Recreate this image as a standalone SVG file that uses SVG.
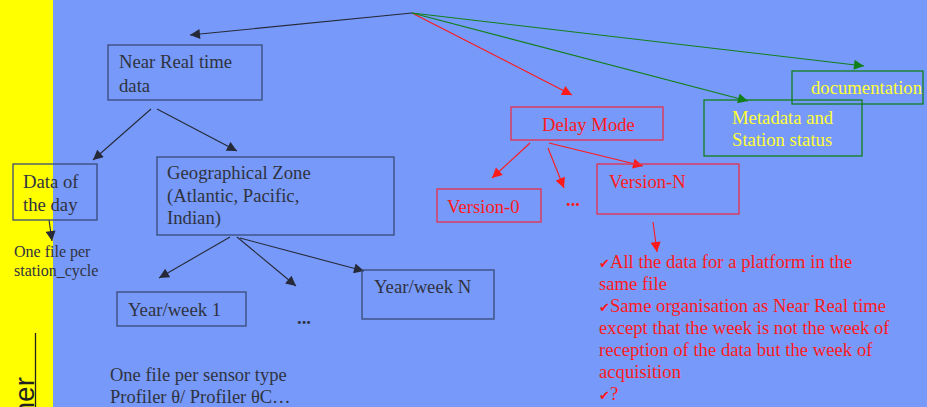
<svg xmlns="http://www.w3.org/2000/svg" width="927" height="407" viewBox="0 0 927 407">
<defs>
<style>
.bg{fill:#7799FA}
.bx{fill:none;stroke:#3A4A78;stroke-width:1.3}
.rb{fill:none;stroke:#E8304A;stroke-width:1.3}
.gb{fill:none;stroke:#11801A;stroke-width:1.3}
.t{font-family:"Liberation Serif","Times New Roman",serif;font-size:18.7px;fill:#2F3340}
.ts{font-family:"Liberation Serif","Times New Roman",serif;font-size:16px;fill:#2F3340}
.tm{font-family:"Liberation Serif","Times New Roman",serif;font-size:18.5px;fill:#2F3340}
.tr{font-family:"Liberation Serif","Times New Roman",serif;font-size:18.7px;fill:#FF1A1A}
.ty{font-family:"Liberation Serif","Times New Roman",serif;font-size:18.7px;fill:#FFFF33}
.ck{font-family:"DejaVu Sans",sans-serif;font-size:13px}
.kl{stroke:#262A38;stroke-width:1.1;fill:none}
.rl{stroke:#FF1A1A;stroke-width:1.1;fill:none}
.gl{stroke:#11801A;stroke-width:1.1;fill:none}
</style>
<marker id="ak" viewBox="0 0 10 10" refX="10" refY="5" markerWidth="11" markerHeight="10" markerUnits="userSpaceOnUse" orient="auto"><path d="M0,0 L10,5 L0,10 z" fill="#262A38"/></marker>
<marker id="ar" viewBox="0 0 10 10" refX="10" refY="5" markerWidth="11" markerHeight="10" markerUnits="userSpaceOnUse" orient="auto"><path d="M0,0 L10,5 L0,10 z" fill="#FF1A1A"/></marker>
<marker id="ag" viewBox="0 0 10 10" refX="10" refY="5" markerWidth="11" markerHeight="10" markerUnits="userSpaceOnUse" orient="auto"><path d="M0,0 L10,5 L0,10 z" fill="#11801A"/></marker>
</defs>
<rect x="0" y="0" width="927" height="407" class="bg"/>
<rect x="0" y="0" width="53" height="407" fill="#FFFF00"/>
<g id="side-title">
<text transform="translate(34,377) rotate(-90)" text-anchor="end" font-family="Liberation Sans,Arial,sans-serif" font-size="28" fill="#222">ner</text>
<line x1="35.5" y1="333" x2="35.5" y2="407" stroke="#222" stroke-width="1.3"/>
</g>
<g id="connectors">
<line class="kl" x1="412" y1="13" x2="190" y2="35" marker-end="url(#ak)"/>
<line class="rl" x1="412" y1="13" x2="572" y2="95" marker-end="url(#ar)"/>
<line class="gl" x1="412" y1="13" x2="748" y2="101" marker-end="url(#ag)"/>
<line class="gl" x1="412" y1="13" x2="864" y2="66" marker-end="url(#ag)"/>
<line class="kl" x1="151" y1="109" x2="93" y2="160" marker-end="url(#ak)"/>
<line class="kl" x1="157" y1="109" x2="237" y2="151" marker-end="url(#ak)"/>
<line class="kl" x1="49" y1="220" x2="52" y2="241" marker-end="url(#ak)"/>
<line class="kl" x1="230" y1="237" x2="159" y2="278" marker-end="url(#ak)"/>
<line class="kl" x1="237" y1="237" x2="296" y2="286" marker-end="url(#ak)"/>
<line class="kl" x1="240" y1="238" x2="364" y2="271" marker-end="url(#ak)"/>
<line class="rl" x1="530" y1="143" x2="492" y2="178" marker-end="url(#ar)"/>
<line class="rl" x1="548" y1="148" x2="564" y2="188" marker-end="url(#ar)"/>
<line class="rl" x1="549" y1="143" x2="643" y2="166" marker-end="url(#ar)"/>
<line class="rl" x1="653" y1="222" x2="657" y2="252" marker-end="url(#ar)"/>
</g>
<g id="near-real-time">
<rect class="bx" x="108" y="45" width="154" height="55"/>
<text class="t" x="119" y="68">Near Real time</text>
<text class="t" x="119" y="92">data</text>
</g>
<g id="data-of-the-day">
<rect class="bx" x="13" y="164" width="84" height="56"/>
<text class="t" x="23" y="188">Data of</text>
<text class="t" x="23" y="211">the day</text>
</g>
<g id="station-cycle-note">
<text class="ts" x="14" y="257">One file per</text>
<text class="ts" x="14" y="276">station_cycle</text>
</g>
<g id="geographical-zone">
<rect class="bx" x="157" y="157" width="237" height="78"/>
<text class="t" x="167" y="179">Geographical Zone</text>
<text class="t" x="167" y="202">(Atlantic, Pacific,</text>
<text class="t" x="167" y="224">Indian)</text>
</g>
<g id="year-week-1">
<rect class="bx" x="117" y="292" width="129" height="34"/>
<text class="t" x="128" y="316">Year/week 1</text>
</g>
<g id="ellipsis-black">
<text class="t" x="297" y="324" font-weight="bold">...</text>
</g>
<g id="year-week-n">
<rect class="bx" x="362" y="270" width="132" height="49"/>
<text class="t" x="374" y="293">Year/week N</text>
</g>
<g id="sensor-note">
<text class="tm" x="110" y="381">One file per sensor type</text>
<text class="tm" x="110" y="403">Profiler θ/ Profiler θC…</text>
</g>
<g id="delay-mode">
<rect class="rb" x="511" y="107" width="152" height="33"/>
<text class="tr" x="542" y="131">Delay Mode</text>
</g>
<g id="version-0">
<rect class="rb" x="437" y="189" width="104" height="33"/>
<text class="tr" x="447" y="213">Version-0</text>
</g>
<g id="ellipsis-red">
<text class="tr" x="566" y="206" font-weight="bold">...</text>
</g>
<g id="version-n">
<rect class="rb" x="597" y="164" width="142" height="50"/>
<text class="tr" x="609" y="188">Version-N</text>
</g>
<g id="metadata">
<rect class="gb" x="704" y="100" width="158" height="56"/>
<text class="ty" x="732" y="124">Metadata and</text>
<text class="ty" x="732" y="146">Station status</text>
</g>
<g id="documentation">
<rect class="gb" x="792" y="71" width="131" height="33"/>
<text class="ty" x="811" y="94">documentation</text>
</g>
<g id="delay-notes">
<text class="tr" x="599" y="268"><tspan class="ck">✔</tspan>All  the data for a platform in the</text>
<text class="tr" x="599" y="290">same file</text>
<text class="tr" x="599" y="312"><tspan class="ck">✔</tspan>Same organisation as Near Real time</text>
<text class="tr" x="599" y="334">except that the week is not the week of</text>
<text class="tr" x="599" y="356">reception of the data but the week of</text>
<text class="tr" x="599" y="378">acquisition</text>
<text class="tr" x="599" y="400"><tspan class="ck">✔</tspan>?</text>
</g>
</svg>
